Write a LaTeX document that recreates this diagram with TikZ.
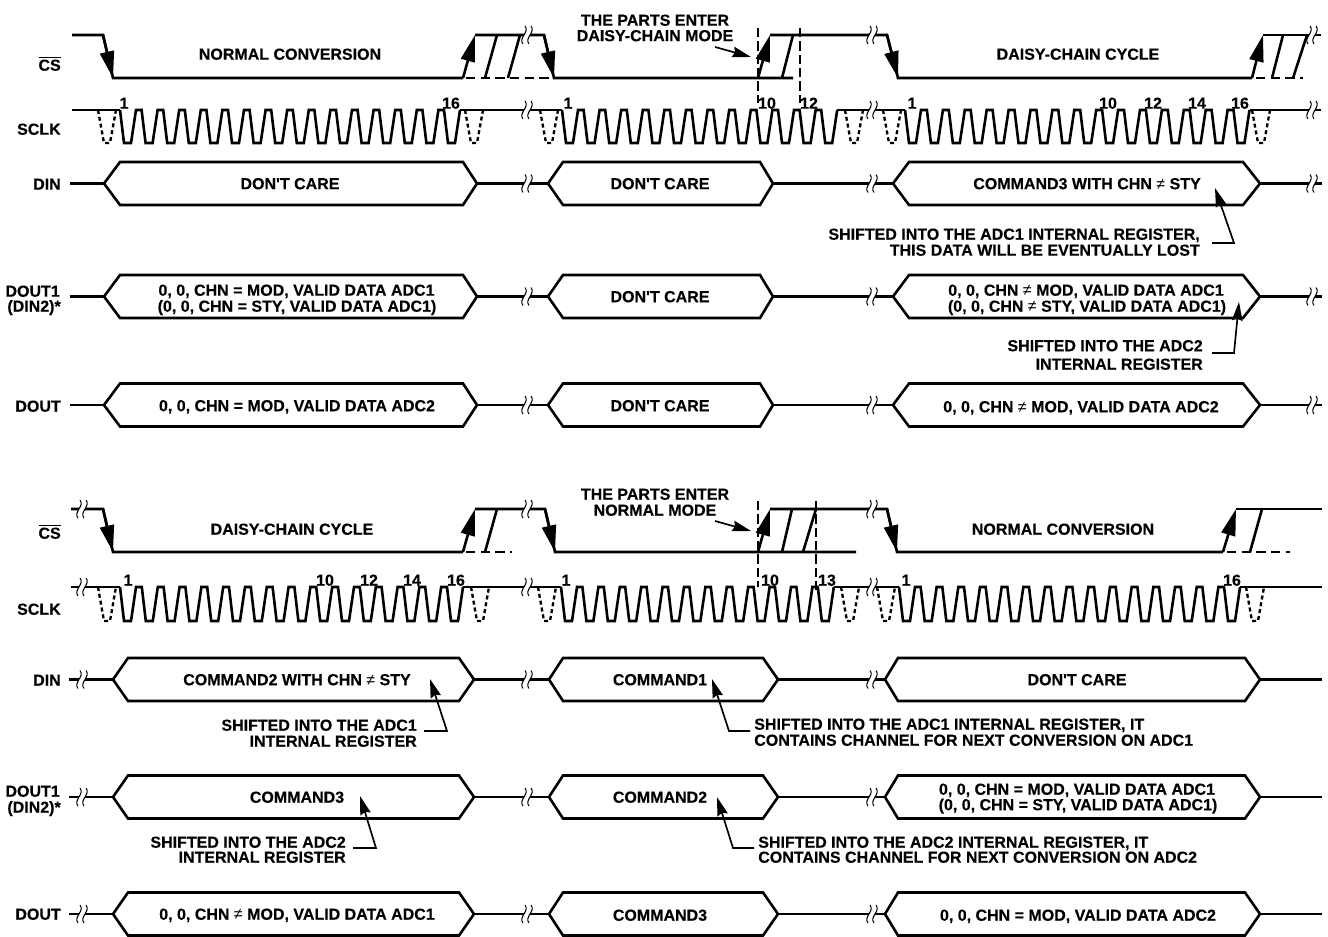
\documentclass[tikz,border=0pt]{standalone}
\usepackage{fontspec}
\newfontfamily\labfont{Liberation Sans}[BoldFont={Liberation Sans Bold},BoldFeatures={FakeBold=0.25}]
\newfontfamily\nefont{Liberation Sans}
\usetikzlibrary{arrows.meta}
\newcommand{\nesym}{{\mdseries\nefont ≠}}
\tikzset{
  wave/.style={line width=1.95pt,line join=miter},
  dashwave/.style={line width=1.95pt,dash pattern=on 7pt off 4pt},
  dashpulse/.style={line width=1.75pt,dash pattern=on 3pt off 2.2pt},
  guide/.style={line width=0.85pt,dash pattern=on 7pt off 3pt},
  bigarrow/.style={line width=1.95pt,-{Triangle[length=20pt,width=10.5pt]}},
  note/.style={line width=1.25pt,-{Stealth[length=14pt,width=8pt,inset=1.5pt]}},
  brkline/.style={line width=0.8pt},
  txt/.style={font=\labfont\bfseries\fontsize{12}{14}\selectfont,inner sep=0pt,text height=8.6pt,text depth=0pt},
  num/.style={txt},
  sig/.style={txt,anchor=east},
}
% start, count, period, high y, low y
\newcommand{\clockwave}[5]{\draw[wave] (#1,#4)
  foreach \i [evaluate=\i as \xx using #1+(\i-1)*#3] in {1,...,#2} { -- (\xx,#4) -- (\xx+4,#5) -- (\xx+11,#5) -- (\xx+16,#4) };}
% x, high y, low y
\newcommand{\dpulse}[3]{\draw[dashpulse] (#1,#2) -- (#1+6,#3) -- (#1+12,#3) -- (#1+18,#2);}
% x, y
\newcommand{\brk}[2]{\fill[white] (#1-3,#2-2.5) rectangle (#1+3,#2+2.5);
  \draw[brkline] (#1-2,#2-9) .. controls (#1+3,#2-3) and (#1-9,#2+3) .. (#1-4,#2+9);
  \draw[brkline] (#1+4,#2-9) .. controls (#1+9,#2-3) and (#1-3,#2+3) .. (#1+2,#2+9);}
% left apex, left top, right top, right apex, centre y, half height
\newcommand{\busshape}[6]{\draw[wave] (#1,#5) -- (#2,#5-#6) -- (#3,#5-#6) -- (#4,#5) -- (#3,#5+#6) -- (#2,#5+#6) -- cycle;}
% centre y: whole top row of three buses
\newcommand{\toprow}[1]{
  \draw[wave] (70,#1) -- (104,#1);
  \draw[wave] (477,#1) -- (548,#1);
  \draw[wave] (773,#1) -- (893,#1);
  \draw[wave] (1260,#1) -- (1322,#1);
  \busshape{104}{120}{463}{477}{#1}{21.5}
  \busshape{548}{563}{760}{773}{#1}{21.5}
  \busshape{893}{909}{1243}{1260}{#1}{21.5}
  \brk{527}{#1}\brk{872}{#1}\brk{1312}{#1}}
\newcommand{\botrow}[1]{
  \draw[wave] (69,#1) -- (113,#1);
  \draw[wave] (474,#1) -- (549,#1);
  \draw[wave] (778,#1) -- (885,#1);
  \draw[wave] (1260,#1) -- (1322,#1);
  \busshape{113}{128}{459}{474}{#1}{21.5}
  \busshape{549}{563}{763}{778}{#1}{21.5}
  \busshape{885}{898}{1245}{1260}{#1}{21.5}
  \brk{82}{#1}\brk{527}{#1}\brk{872}{#1}}
\begin{document}
\begin{tikzpicture}[x=0.75pt,y=-0.75pt]
\useasboundingbox (0,0) rectangle (1328,937);

% ---------- TOP BLOCK: CS ----------
\draw[wave] (72,35) -- (103,35) -- (113,78) -- (463,78);
\draw[wave] (475,35) -- (544,35) -- (554,78) -- (793,78);
\draw[wave] (770,35) -- (887,35) -- (898,78) -- (1252,78);
\draw[wave] (1263,35) -- (1321,35);
\draw[bigarrow] (103,35) -- (113,78);
\draw[bigarrow] (463,78) -- (475,35);
\draw[wave] (485,78) -- (497,35);
\draw[wave] (508,78) -- (520,35);
\draw[bigarrow] (544,35) -- (554,78);
\draw[bigarrow] (758,78) -- (770,35);
\draw[wave] (782,78) -- (793,35);
\draw[bigarrow] (887,35) -- (898,78);
\draw[bigarrow] (1252,78) -- (1263,35);
\draw[wave] (1272,78) -- (1283,35);
\draw[wave] (1293,78) -- (1307,35);
\draw[dashwave] (466,78) -- (554,78);
\draw[dashwave] (1256,78) -- (1303,78);
\brk{527}{35}\brk{872}{35}\brk{1312}{35}

% ---------- TOP BLOCK: SCLK ----------
\draw[wave] (72,110) -- (120,110);
\clockwave{120}{16}{21.6}{110}{143}
\draw[wave] (460,110) -- (562,110);
\clockwave{562}{13}{21.6}{110}{143}
\draw[wave] (837,110) -- (905,110);
\clockwave{905}{16}{21.9}{110}{143}
\draw[wave] (1250,110) -- (1321,110);
\dpulse{98}{110}{143}\dpulse{465}{110}{143}\dpulse{540}{110}{143}
\dpulse{845}{110}{143}\dpulse{883}{110}{143}\dpulse{1252}{110}{143}
\brk{527}{110}\brk{872}{110}\brk{1312}{110}

% ---------- TOP BLOCK: BUSES ----------
\toprow{183.5}
\toprow{296.5}
\toprow{405}

% ---------- BOTTOM BLOCK: CS ----------
\draw[wave] (71,509) -- (103,509) -- (113,552) -- (463,552);
\draw[wave] (475,509) -- (545,509) -- (555,552) -- (856,552);
\draw[wave] (770,509) -- (887,509) -- (897,552) -- (1223,552);
\draw[wave] (1236,509) -- (1322,509);
\draw[bigarrow] (103,509) -- (113,552);
\draw[bigarrow] (463,552) -- (475,509);
\draw[wave] (485,552) -- (497,509);
\draw[bigarrow] (545,509) -- (555,552);
\draw[bigarrow] (758,552) -- (770,509);
\draw[wave] (782,552) -- (792,509);
\draw[wave] (803,552) -- (816,509);
\draw[bigarrow] (887,509) -- (897,552);
\draw[bigarrow] (1223,552) -- (1236,509);
\draw[wave] (1250,552) -- (1262,509);
\draw[dashwave] (466,552) -- (512,552);
\draw[dashwave] (1227,552) -- (1290,552);
\brk{82}{509}\brk{527}{509}\brk{872}{509}

% ---------- BOTTOM BLOCK: SCLK ----------
\draw[wave] (71,587) -- (120,587);
\clockwave{120}{16}{21.8}{587}{621}
\draw[wave] (463,587) -- (561,587);
\clockwave{561}{13}{21.4}{587}{621}
\draw[wave] (834,587) -- (899,587);
\clockwave{899}{16}{21.67}{587}{621}
\draw[wave] (1240,587) -- (1322,587);
\dpulse{98}{587}{621}\dpulse{471}{587}{621}\dpulse{538}{587}{621}
\dpulse{841}{587}{621}\dpulse{877}{587}{621}\dpulse{1246}{587}{621}
\brk{82}{587}\brk{527}{587}\brk{872}{587}

% ---------- BOTTOM BLOCK: BUSES ----------
\botrow{679.5}
\botrow{797}
\botrow{914}

% ---------- guides ----------
\coordinate (g1a) at (758,28); \coordinate (g1b) at (758,103);
\coordinate (g2a) at (800,28); \coordinate (g2b) at (800,103);
\coordinate (g3a) at (758,501); \coordinate (g3b) at (758,587);
\coordinate (g4a) at (816,501); \coordinate (g4b) at (816,590);
\draw[guide] (g1a) -- (g1b);
\draw[guide] (g2a) -- (g2b);
\draw[guide] (g3a) -- (g3b);
\draw[guide] (g4a) -- (g4b);

% ---------- signal names ----------
\node[sig] (cs1) at (61,65) {$\overline{\mbox{CS}}$};
\node[sig] (sclk1) at (61,129) {SCLK};
\node[sig] (din1) at (61,184) {DIN};
\node[sig] (dout1a) at (60,291) {DOUT1};
\node[sig] (dout1b) at (61,306) {(DIN2)*};
\node[sig] (dout1c) at (61,406) {DOUT};
\node[sig] (cs2) at (61,533) {$\overline{\mbox{CS}}$};
\node[sig] (sclk2) at (61,609) {SCLK};
\node[sig] (din2) at (61,680) {DIN};
\node[sig] (dout2a) at (60,791) {DOUT1};
\node[sig] (dout2b) at (61,807) {(DIN2)*};
\node[sig] (dout2c) at (61,914) {DOUT};

% ---------- clock numbers ----------
\foreach \nm/\xc/\yc/\s in {n1/124/103/1,n2/451/103/16,n3/568/103/1,n4/767/103/10,n5/809/103/12,
  n6/912/103/1,n7/1108/103/10,n8/1153/103/12,n9/1197/103/14,n10/1240/103/16,
  n11/128/580/1,n12/325/580/10,n13/369/580/12,n14/412/580/14,n15/456/580/16,
  n16/566/580/1,n17/770/580/10,n18/827/580/13,n19/906/580/1,n20/1232/580/16}
  \node[num] (\nm) at (\xc,\yc) {\s};

% ---------- captions ----------
\node[txt] (c1) at (290,54) {NORMAL CONVERSION};
\node[txt] (c2) at (1078,54) {DAISY-CHAIN CYCLE};
\node[txt] (c3) at (292,529) {DAISY-CHAIN CYCLE};
\node[txt] (c4) at (1063,529) {NORMAL CONVERSION};
\node[txt] (e1a) at (655,20) {THE PARTS ENTER};
\node[txt] (e1b) at (655,35.5) {DAISY-CHAIN MODE};
\node[txt] (e2a) at (655,494) {THE PARTS ENTER};
\node[txt] (e2b) at (655,510) {NORMAL MODE};

% ---------- bus texts ----------
\node[txt] (b1) at (290,183.5) {DON'T CARE};
\node[txt] (b2) at (660,183.5) {DON'T CARE};
\node[txt] (b3) at (1087,183.5) {COMMAND3 WITH CHN \nesym{} STY};
\node[txt] (b4) at (296.5,290) {0, 0, CHN = MOD, VALID DATA ADC1};
\node[txt] (b5) at (297,306) {(0, 0, CHN = STY, VALID DATA ADC1)};
\node[txt] (b6) at (660,296.5) {DON'T CARE};
\node[txt] (b7) at (1086,290) {0, 0, CHN \nesym{} MOD, VALID DATA ADC1};
\node[txt] (b8) at (1087,306) {(0, 0, CHN \nesym{} STY, VALID DATA ADC1)};
\node[txt] (b9) at (297,405.5) {0, 0, CHN = MOD, VALID DATA ADC2};
\node[txt] (b10) at (660,405.5) {DON'T CARE};
\node[txt] (b11) at (1081,406.5) {0, 0, CHN \nesym{} MOD, VALID DATA ADC2};
\node[txt] (b12) at (297,679.5) {COMMAND2 WITH CHN \nesym{} STY};
\node[txt] (b13) at (660,679.5) {COMMAND1};
\node[txt] (b14) at (1077,679.5) {DON'T CARE};
\node[txt] (b15) at (297,797) {COMMAND3};
\node[txt] (b16) at (660,797) {COMMAND2};
\node[txt] (b17) at (1077,789) {0, 0, CHN = MOD, VALID DATA ADC1};
\node[txt] (b18) at (1078,804.5) {(0, 0, CHN = STY, VALID DATA ADC1)};
\node[txt] (b19) at (297,914) {0, 0, CHN \nesym{} MOD, VALID DATA ADC1};
\node[txt] (b20) at (660,915) {COMMAND3};
\node[txt] (b21) at (1078,915) {0, 0, CHN = MOD, VALID DATA ADC2};

% ---------- annotations ----------
\node[txt,anchor=east] (a1a) at (1200,234) {SHIFTED INTO THE ADC1 INTERNAL REGISTER,};
\node[txt,anchor=east] (a1b) at (1200,250) {THIS DATA WILL BE EVENTUALLY LOST};
\node[txt,anchor=east] (a2a) at (1203,345.5) {SHIFTED INTO THE ADC2};
\node[txt,anchor=east] (a2b) at (1203,364) {INTERNAL REGISTER};
\node[txt,anchor=east] (a3a) at (417,725) {SHIFTED INTO THE ADC1};
\node[txt,anchor=east] (a3b) at (417,741) {INTERNAL REGISTER};
\node[txt,anchor=east] (a4a) at (346,842) {SHIFTED INTO THE ADC2};
\node[txt,anchor=east] (a4b) at (346,857) {INTERNAL REGISTER};
\node[txt,anchor=west] (a5a) at (754,724) {SHIFTED INTO THE ADC1 INTERNAL REGISTER, IT};
\node[txt,anchor=west] (a5b) at (754,740) {CONTAINS CHANNEL FOR NEXT CONVERSION ON ADC1};
\node[txt,anchor=west] (a6a) at (758,842) {SHIFTED INTO THE ADC2 INTERNAL REGISTER, IT};
\node[txt,anchor=west] (a6b) at (758,857) {CONTAINS CHANNEL FOR NEXT CONVERSION ON ADC2};

\coordinate (t1) at (1215,188); \coordinate (k1) at (1234,243); \coordinate (s1) at (1212,243);
\coordinate (t2) at (1239,302); \coordinate (k2) at (1234,353); \coordinate (s2) at (1212,353);
\coordinate (t3) at (430,679); \coordinate (k3) at (447,731); \coordinate (s3) at (424,731);
\coordinate (t4) at (360,796); \coordinate (k4) at (376,848); \coordinate (s4) at (353,848);
\coordinate (t5) at (712,679); \coordinate (k5) at (729,731); \coordinate (s5) at (750,731);
\coordinate (t6) at (717,797); \coordinate (k6) at (733,848); \coordinate (s6) at (754,848);
\coordinate (p1) at (715,47); \coordinate (q1) at (751,57);
\coordinate (p2) at (715,521); \coordinate (q2) at (751,531);
\draw[note] (s1) -- (k1) -- (t1);
\draw[note] (s2) -- (k2) -- (t2);
\draw[note] (s3) -- (k3) -- (t3);
\draw[note] (s4) -- (k4) -- (t4);
\draw[note] (s5) -- (k5) -- (t5);
\draw[note] (s6) -- (k6) -- (t6);
\draw[note] (p1) -- (q1);
\draw[note] (p2) -- (q2);
\end{tikzpicture}
\end{document}
